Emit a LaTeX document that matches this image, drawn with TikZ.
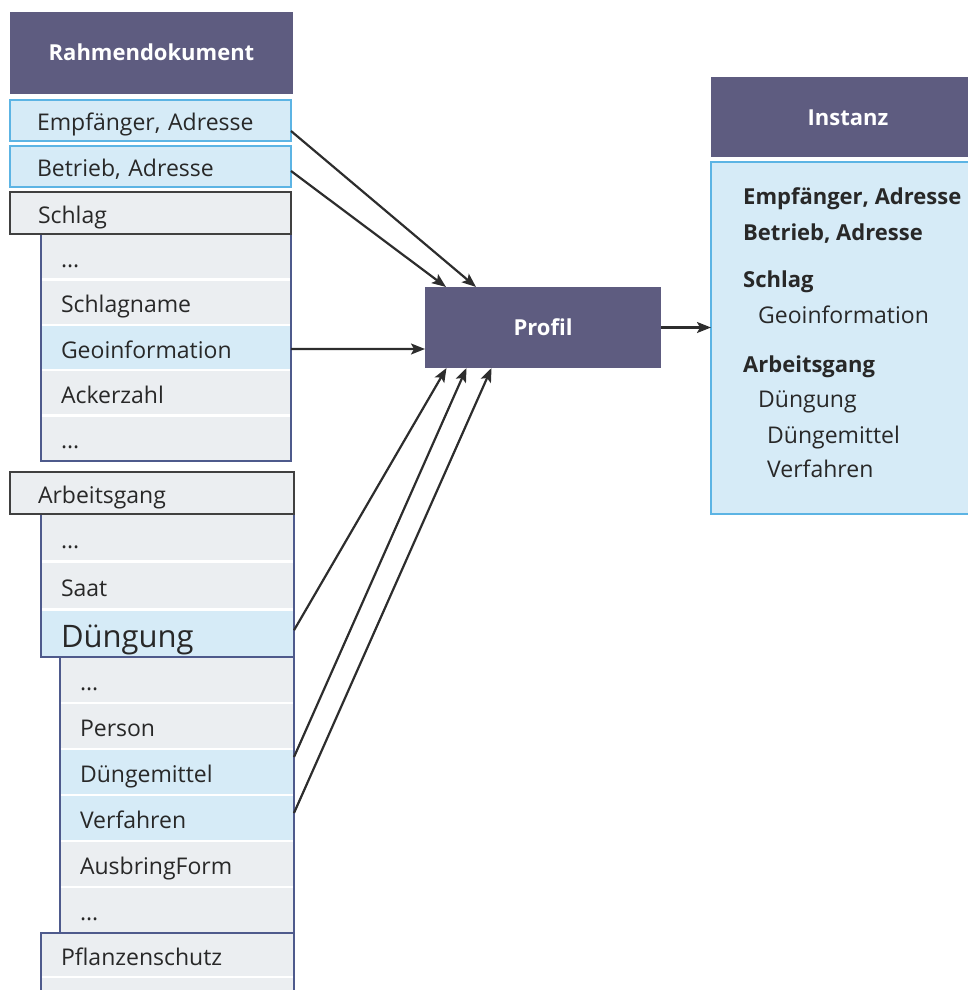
\documentclass[tikz,border=0pt]{standalone}
\usepackage{fontspec}
\setmainfont{Open Sans}
\usetikzlibrary{arrows.meta,positioning}

\definecolor{kopffarbe}{RGB}{94,92,128}
\definecolor{hellblau}{RGB}{214,235,247}
\definecolor{blaurand}{RGB}{92,180,228}
\definecolor{hellgrau}{RGB}{235,238,241}
\definecolor{dunkelrand}{RGB}{64,64,64}
\definecolor{navyrand}{RGB}{78,90,140}
\definecolor{pfeilfarbe}{RGB}{45,45,45}
\definecolor{textfarbe}{RGB}{40,40,40}

\tikzset{
  schrift/.style={font=\fontsize{23}{27}\selectfont, text=textfarbe},
  kopf/.style={fill=kopffarbe, text=white, font=\fontsize{22}{26}\selectfont\bfseries,
    inner sep=0pt, outer sep=0pt, text height=16pt, text depth=0pt},
  feld/.style={fill=hellblau, draw=blaurand, line width=2pt, schrift, minimum height=41,
    inner xsep=27pt, text width=227pt, align=left, outer sep=0pt, text height=20pt, text depth=0pt},
  gruppe/.style={fill=hellgrau, draw=dunkelrand, line width=1.8pt, schrift, minimum height=42,
    inner xsep=28pt, text width=#1, align=left, outer sep=0pt, text height=20pt, text depth=0pt},
  zeile/.style 2 args={fill=hellgrau, draw=white, line width=2.5pt, schrift, minimum height=#2,
    inner xsep=20pt, text width=#1, align=left, outer sep=0pt, text height=21pt, text depth=0pt},
  markiert/.style={fill=hellblau},
  rand/.style={draw=navyrand, line width=1.5pt},
  inst/.style={schrift, anchor=base west, inner sep=0pt},
  fett/.style={font=\fontsize{22}{26}\selectfont\bfseries},
  pfeil/.style={draw=pfeilfarbe, line width=2.2pt, ->},
}

\begin{document}
\begin{tikzpicture}[x=1pt, y=-1pt, >={Stealth[length=14pt,width=11pt,inset=3pt]}]
  \useasboundingbox (0,0) rectangle (968,990);

  % linke Seite: Rahmendokument
  \node[kopf, minimum width=283, minimum height=82, anchor=north west] (rahmen) at (10,12) {Rahmendokument};
  \node[feld, anchor=north west] (empf) at (10,100) {Empfänger, Adresse};
  \node[feld, anchor=north west] (betrieb) at (10,146) {Betrieb, Adresse};

  % Schlag
  \node[zeile={210pt}{45.4}, anchor=north west] (s1) at (41,234) {...};
  \node[zeile={210pt}{45.4}, below=0pt of s1] (s2) {Schlagname};
  \node[zeile={210pt}{45.4}, markiert, below=0pt of s2] (s3) {Geoinformation};
  \node[zeile={210pt}{45.4}, below=0pt of s3] (s4) {Ackerzahl};
  \node[zeile={210pt}{45.4}, below=0pt of s4] (s5) {...};
  \draw[rand] (s1.north west) rectangle (s5.south east);
  \node[gruppe=225pt, anchor=north west] (schlag) at (10,192) {Schlag};

  % Arbeitsgang
  \node[zeile={213pt}{47.7}, anchor=north west] (a1) at (41,514) {...};
  \node[zeile={213pt}{47.7}, below=0pt of a1] (a2) {Saat};
  \node[zeile={213pt}{47.7}, markiert, below=0pt of a2, font=\fontsize{31}{35}\selectfont, text height=28pt] (a3) {Düngung};
  \draw[rand] (a1.north west) rectangle (a3.south east);
  \node[gruppe=228pt, anchor=north west] (arbeit) at (10,472) {Arbeitsgang};

  % Duengung
  \node[zeile={194pt}{46}, anchor=north west] (d1) at (60,657) {...};
  \node[zeile={194pt}{46}, below=0pt of d1] (d2) {Person};
  \node[zeile={194pt}{46}, markiert, below=0pt of d2] (d3) {Düngemittel};
  \node[zeile={194pt}{46}, markiert, below=0pt of d3] (d4) {Verfahren};
  \node[zeile={194pt}{46}, below=0pt of d4] (d5) {AusbringForm};
  \node[zeile={194pt}{46}, below=0pt of d5] (d6) {...};
  \draw[rand] (d1.north west) rectangle (d6.south east);

  % Pflanzenschutz
  \node[zeile={213pt}{44}, anchor=north west] (p1) at (41,933) {Pflanzenschutz};
  \node[zeile={213pt}{44}, below=0pt of p1] (p2) {};
  \draw[rand] (p1.north west) rectangle (p2.south east);

  % Mitte und rechts
  \node[kopf, minimum width=236, minimum height=81, anchor=north west] (profil) at (425,287) {Profil};
  \node[kopf, minimum width=274, minimum height=80, anchor=north west] (instanz) at (711,77) {Instanz};
  \node[fill=hellblau, draw=blaurand, line width=2pt, minimum width=274, minimum height=352,
    inner sep=0pt, outer sep=0pt, anchor=north west] (inhalt) at (711,162) {};

  \node[inst, fett] (i1) at (743,204) {Empfänger, Adresse};
  \node[inst, fett] (i2) at (743,240) {Betrieb, Adresse};
  \node[inst, fett] (i3) at (743,287) {Schlag};
  \node[inst] (i4) at (758,323) {Geoinformation};
  \node[inst, fett] (i5) at (743,372) {Arbeitsgang};
  \node[inst] (i6) at (758,407) {Düngung};
  \node[inst] (i7) at (767,443) {Düngemittel};
  \node[inst] (i8) at (767,477) {Verfahren};

  % Pfeile
  \draw[pfeil] ([yshift=-10.5pt]empf.east) -- ([xshift=-67pt]profil.north);
  \draw[pfeil] ([yshift=-4.5pt]betrieb.east) -- ([xshift=-97pt]profil.north);
  \draw[pfeil] ([yshift=-1.5pt]s3.east) -- ([yshift=-21.5pt]profil.west);
  \draw[pfeil] ([yshift=3pt]a3.east) -- ([xshift=-96.5pt]profil.south);
  \draw[pfeil] ([yshift=15pt]d3.east) -- ([xshift=-76.5pt]profil.south);
  \draw[pfeil] ([yshift=5pt]d4.east) -- ([xshift=-51.5pt]profil.south);
  \draw[pfeil] (profil.east) -- ([yshift=10.5pt]inhalt.west);
\end{tikzpicture}
\end{document}
